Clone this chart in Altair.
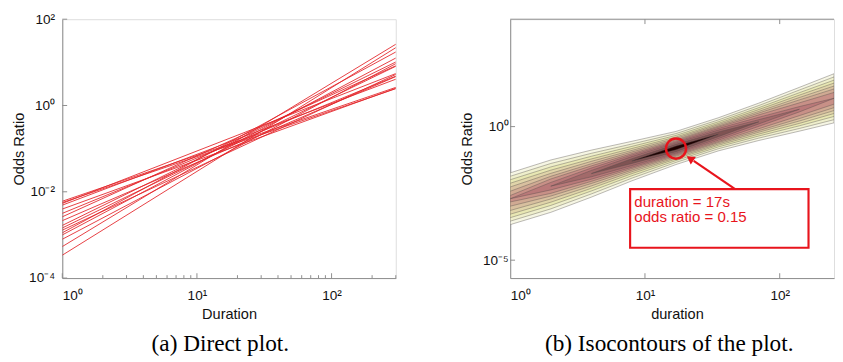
import altair as alt
import pandas as pd

# ---------------- data ----------------
# (a) fitted lines: odds ratio read at duration = 1 and at duration = 300
line_durations = [1, 300]
line_odds_start = [3.39e-4, 5.37e-4, 7.94e-4, 1.0e-3, 1.12e-3, 1.29e-3, 1.45e-3, 1.66e-3,
                   2.14e-3, 2.63e-3, 3.16e-3, 3.98e-3, 4.90e-3, 5.37e-3, 5.62e-3, 6.03e-3]
line_odds_end = [21.9, 26.3, 9.33, 12.6, 17.4, 5.25, 8.13, 10.2,
                 4.68, 8.32, 4.79, 2.51, 4.07, 5.50, 2.45, 2.63]

# (b) isocontours: ridge (log10 odds) and half-widths (decades) of each contour level
contour_durations = [1, 2, 4, 8, 17, 35, 70, 140, 253]
ridge_log10 = [-2.70, -2.23, -1.76, -1.29, -0.80, -0.29, 0.18, 0.65, 1.06]
level_halfwidths = [
    [0.97, 0.98, 0.88, 0.74, 0.62, 0.62, 0.70, 0.82, 0.92],
    [0.84, 0.85, 0.76, 0.64, 0.54, 0.54, 0.61, 0.72, 0.80],
    [0.71, 0.72, 0.65, 0.55, 0.47, 0.47, 0.53, 0.62, 0.68],
    [0.58, 0.60, 0.55, 0.47, 0.41, 0.41, 0.46, 0.53, 0.57],
    [0.44, 0.48, 0.46, 0.40, 0.36, 0.36, 0.39, 0.44, 0.46],
    [0.28, 0.37, 0.37, 0.34, 0.31, 0.31, 0.33, 0.35, 0.35],
    [0.12, 0.27, 0.29, 0.28, 0.27, 0.27, 0.26, 0.24, 0.22],
    [0.00, 0.14, 0.21, 0.23, 0.23, 0.22, 0.17, 0.10, 0.00],
    [0.00, 0.00, 0.12, 0.17, 0.19, 0.16, 0.08, 0.00, 0.00],
    [0.00, 0.00, 0.00, 0.09, 0.14, 0.09, 0.00, 0.00, 0.00],
    [0.00, 0.00, 0.00, 0.00, 0.07, 0.00, 0.00, 0.00, 0.00],
]
level_colors = ["#f6f6e4", "#efefcc", "#e8e7b3", "#e0d4a9", "#d8c09f", "#d0aa93",
                "#c89087", "#b97979", "#a26a6a", "#7f5353", "#1e0000"]

peak_duration = 17
peak_odds = 0.15
note_lines = ["duration = 17s", "odds ratio = 0.15"]

left_x_major = [1, 10, 100]
left_x_minor = [2, 3, 4, 5, 6, 7, 8, 9, 20, 30, 40, 50, 60, 70, 80, 90, 200, 300]
left_y_major = [1e-4, 1e-2, 1, 100]
right_x_major = [10, 100]
right_y_major = [1e-5, 1]

# ---------------- styling ----------------
SANS = "Liberation Sans"
SERIF = "Liberation Serif"
AXIS_GRAY = "#8c8c8c"
RED = "#e8141c"
LW, LH = 344, 267
RW, RH = 334, 267

LABEL_EXPR = ("datum.value < 5e-5 ? '10⁻⁵' : datum.value < 5e-4 ? '10⁻⁴' : "
              "datum.value < 0.05 ? '10⁻²' : datum.value < 5 ? '10⁰' : "
              "datum.value < 50 ? '10¹' : '10²'")

lx_scale = alt.Scale(type="log", domain=[1, 300], nice=False)
ly_scale = alt.Scale(type="log", domain=[1e-4, 1e2], nice=False)
rx_scale = alt.Scale(type="log", domain=[1, 253], nice=False)
ry_scale = alt.Scale(type="log", domain=[10 ** -5.67, 10 ** 4.02], nice=False)


def axis(title, values, pad, **kw):
    return alt.Axis(title=title, values=values, labelExpr=LABEL_EXPR, ticks=False,
                    grid=False, domainColor=AXIS_GRAY, domainWidth=1,
                    labelFont=SANS, labelFontSize=14, labelColor="#111",
                    labelPadding=pad, labelOverlap=False,
                    titleFont=SANS, titleFontSize=15, titleFontWeight="normal",
                    titleColor="#111", **kw)


lx_axis = axis("Duration", [1, 10, 100], 11, titlePadding=5)
ly_axis = axis("Odds Ratio", [1e-4, 1e-2, 1, 100], 8, titlePadding=2)
rx_axis = axis("duration", [1, 10, 100], 11, titlePadding=5, titleX=172)
ry_axis = axis("Odds Ratio", [1e-5, 1], 2, titlePadding=9)


def LX(f):
    return alt.X(f, scale=lx_scale, axis=lx_axis)


def LY(f):
    return alt.Y(f, scale=ly_scale, axis=ly_axis)


def RX(f):
    return alt.X(f, scale=rx_scale, axis=rx_axis)


def RY(f):
    return alt.Y(f, scale=ry_scale, axis=ry_axis)


# ---------------- (a) direct plot ----------------
rows = []
for i, (a, b) in enumerate(zip(line_odds_start, line_odds_end)):
    rows.append({"line": i, "duration": line_durations[0], "odds": a})
    rows.append({"line": i, "duration": line_durations[1], "odds": b})
lines_df = pd.DataFrame(rows)

left_lines = alt.Chart(lines_df).mark_line(color="#e3262b", strokeWidth=0.9, clip=True).encode(
    x=LX("duration:Q"), y=LY("odds:Q"), detail="line:N")

left_xt = alt.Chart(pd.DataFrame({"duration": left_x_major})).mark_rule(color=AXIS_GRAY).encode(
    x=LX("duration:Q"), y=alt.value(LH), y2=alt.value(LH - 5))
left_xm = alt.Chart(pd.DataFrame({"duration": left_x_minor})).mark_rule(color=AXIS_GRAY).encode(
    x=LX("duration:Q"), y=alt.value(LH), y2=alt.value(LH - 3))
left_yt = alt.Chart(pd.DataFrame({"odds": left_y_major})).mark_rule(color=AXIS_GRAY).encode(
    y=LY("odds:Q"), x=alt.value(0), x2=alt.value(5))

left = alt.layer(left_lines, left_xt, left_xm, left_yt).properties(
    width=LW, height=LH,
    title=alt.TitleParams("(a) Direct plot.", orient="bottom", font=SERIF, fontSize=24,
                          fontWeight="normal", color="#000", offset=11, dx=-9),
)

# ---------------- (b) isocontours ----------------
layers = []
for lvl, (hw, col) in enumerate(zip(level_halfwidths, level_colors)):
    pts = []
    n = len(hw)
    for j in range(n):
        keep = hw[j] > 0 or (j > 0 and hw[j - 1] > 0) or (j < n - 1 and hw[j + 1] > 0)
        if keep:
            c = ridge_log10[j]
            pts.append({"duration": contour_durations[j],
                        "odds": 10 ** (c - hw[j]), "odds_hi": 10 ** (c + hw[j])})
    df = pd.DataFrame(pts)
    layers.append(alt.Chart(df).mark_area(fill=col, stroke="#4d4646", strokeWidth=0.45,
                                          strokeOpacity=0.85, clip=True).encode(
        x=RX("duration:Q"), y=RY("odds:Q"), y2="odds_hi:Q"))

r_xt = alt.Chart(pd.DataFrame({"duration": right_x_major})).mark_rule(color=AXIS_GRAY).encode(
    x=RX("duration:Q"), y=alt.value(RH), y2=alt.value(RH - 5))
r_xt_top = alt.Chart(pd.DataFrame({"duration": right_x_major})).mark_rule(color=AXIS_GRAY).encode(
    x=RX("duration:Q"), y=alt.value(0), y2=alt.value(5))
r_yt = alt.Chart(pd.DataFrame({"odds": right_y_major})).mark_rule(color=AXIS_GRAY).encode(
    y=RY("odds:Q"), x=alt.value(0), x2=alt.value(5))
r_top = alt.Chart(pd.DataFrame({"k": [0]})).mark_rule(color=AXIS_GRAY, strokeWidth=1).encode(
    x=alt.value(0), x2=alt.value(RW), y=alt.value(0))

# annotation
box_df = pd.DataFrame({"duration": [7.76], "d2": [163.6], "odds": [4.56e-3], "o2": [2.92e-5]})
r_box = alt.Chart(box_df).mark_rect(fill="white", stroke=RED, strokeWidth=2.2).encode(
    x=RX("duration:Q"), x2="d2:Q", y=RY("odds:Q"), y2="o2:Q")

note_df = pd.DataFrame({"label": note_lines, "duration": [8.34, 8.34],
                        "odds": [1.01e-3, 2.66e-4]})
r_note = alt.Chart(note_df).mark_text(align="left", baseline="alphabetic", font=SANS,
                                      fontSize=15.5, color=RED).encode(
    x=RX("duration:Q"), y=RY("odds:Q"), text="label:N")

arrow_df = pd.DataFrame({"duration": [46.7], "odds": [4.56e-3], "d2": [23.0], "o2": [0.052]})
r_arrow = alt.Chart(arrow_df).mark_rule(color=RED, strokeWidth=2.2).encode(
    x=RX("duration:Q"), x2="d2:Q", y=RY("odds:Q"), y2="o2:Q")
head_df = pd.DataFrame({"duration": [21.6], "odds": [0.064]})
r_head = alt.Chart(head_df).mark_point(shape="triangle-up", filled=True, color=RED,
                                       size=90, angle=304, opacity=1).encode(
    x=RX("duration:Q"), y=RY("odds:Q"))

peak_df = pd.DataFrame({"duration": [peak_duration], "odds": [peak_odds]})
r_ring = alt.Chart(peak_df).mark_point(shape="circle", filled=False, color=RED,
                                       size=430, strokeWidth=2.5, opacity=1).encode(
    x=RX("duration:Q"), y=RY("odds:Q"))

right = alt.layer(*layers, r_xt, r_xt_top, r_yt, r_top, r_arrow, r_head, r_box, r_note,
                  r_ring).properties(
    width=RW, height=RH,
    title=alt.TitleParams("(b) Isocontours of the plot.", orient="bottom", font=SERIF,
                          fontSize=24, fontWeight="normal", color="#000", offset=11, dx=-3),
)

chart = alt.hconcat(left, right, spacing=64).properties(
    padding={"left": 3, "top": -2, "right": 0, "bottom": 0}
).configure_view(stroke=None).configure(background="white")

chart.save("out.html", embed_options={"renderer": "svg", "actions": False})
